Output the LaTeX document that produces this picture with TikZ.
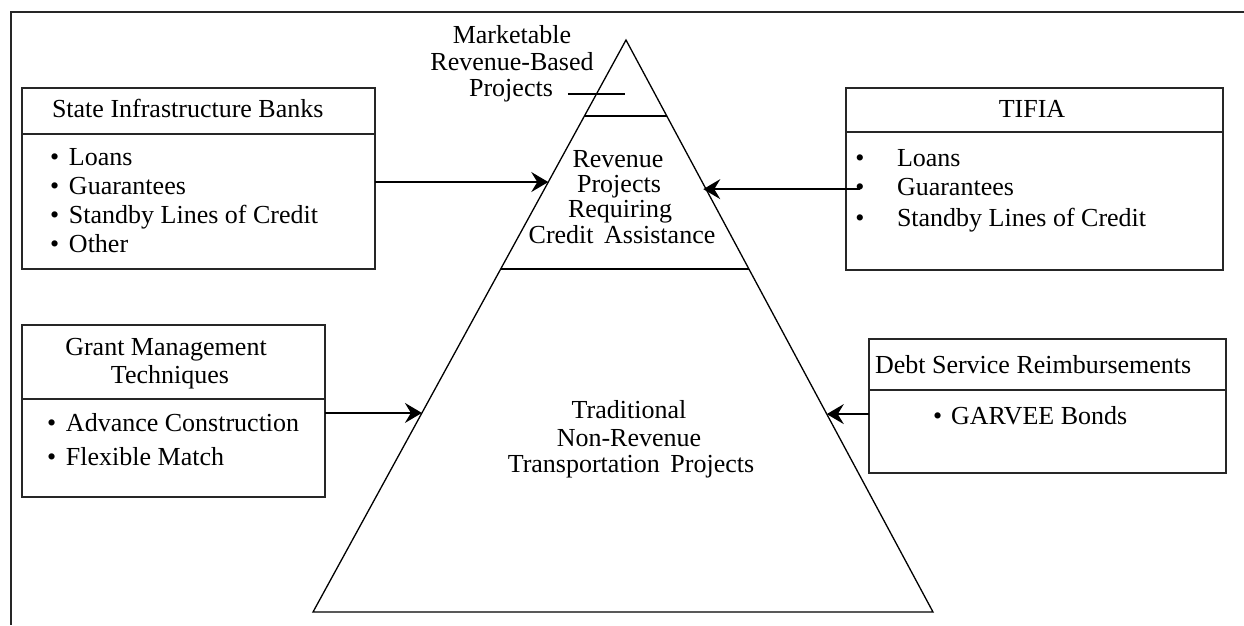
\documentclass[tikz,border=0pt]{standalone}
\usepackage{fontspec}
\setmainfont{Liberation Serif}
\usetikzlibrary{arrows.meta,calc}

\newcommand{\bulbox}[1]{\makebox[#1][l]{\textbullet}}

\begin{document}
\begin{tikzpicture}[x=1pt,y=-1pt,
  every node/.style={inner sep=0pt, outer sep=0pt},
  txt/.style={font=\fontsize{26}{29}\selectfont, anchor=base west},
  ctxt/.style={font=\fontsize{26}{29}\selectfont, anchor=base},
  panel/.style={draw=black!85, line width=1.7pt, anchor=north west},
  rule/.style={draw=black!85, line width=1.7pt},
  edge/.style={line width=1.3pt},
  link/.style={line width=1.4pt, -{Stealth[length=17pt,width=20pt,inset=6pt]}},
]
\useasboundingbox (0,0) rectangle (1244,625);

% frame
\coordinate (frameTR) at (1244,12);
\coordinate (frameTL) at (11,12);
\coordinate (frameBL) at (11,625);
\draw[line width=1.5pt, black!85] (frameTR) -- (frameTL) -- (frameBL);

% pyramid
\coordinate (apex) at (626,40);
\coordinate (bl) at (313,612);
\coordinate (br) at (933,612);
\draw[edge, line join=miter] (bl) -- (apex) -- (br) -- cycle;
\draw[edge] ($(apex)!0.1329!(bl)$) -- ($(apex)!0.1329!(br)$);
\draw[edge] ($(apex)!0.4003!(bl)$) -- ($(apex)!0.4003!(br)$);

% pyramid labels
\node[ctxt] (mk1) at (512,43) {Marketable};
\node[ctxt] (mk2) at (512,70) {Revenue-Based};
\node[ctxt] (mk3) at (511,96) {Projects};
\draw[edge] ([xshift=15pt,yshift=2pt]mk3.base east) -- ++(57,0);

\node[ctxt] (rv1) at (618,167) {Revenue};
\node[ctxt] (rv2) at (619,192) {Projects};
\node[ctxt] (rv3) at (620,217) {Requiring};
\node[ctxt] (rv4) at (622,243) {Credit\hspace{4pt} Assistance};

\node[ctxt] (tr1) at (629,418) {Traditional};
\node[ctxt] (tr2) at (629,446) {Non-Revenue};
\node[ctxt] (tr3) at (631,472) {Transportation\hspace{4pt} Projects};

% State Infrastructure Banks
\node[panel, minimum width=353pt, minimum height=181pt] (sib) at (22,88) {};
\draw[rule] ([yshift=-46pt]sib.north west) -- ([yshift=-46pt]sib.north east);
\node[txt] (sibT) at (52,117) {State Infrastructure Banks};
\node[txt] (sib1) at (50,165) {\bulbox{19pt}Loans};
\node[txt] (sib2) at (50,194) {\bulbox{19pt}Guarantees};
\node[txt] (sib3) at (50,223) {\bulbox{19pt}Standby Lines of Credit};
\node[txt] (sib4) at (50,252) {\bulbox{19pt}Other};

% TIFIA
\node[panel, minimum width=377pt, minimum height=182pt] (tifia) at (846,88) {};
\draw[rule] ([yshift=-44pt]tifia.north west) -- ([yshift=-44pt]tifia.north east);
\node[ctxt] (tifiaT) at (1032,117) {TIFIA};
\node[ctxt] (tb1) at (860,166) {\textbullet};
\node[ctxt] (tb2) at (860,195) {\textbullet};
\node[ctxt] (tb3) at (860,226) {\textbullet};
\node[txt] (tf1) at (897,166) {Loans};
\node[txt] (tf2) at (897,195) {Guarantees};
\node[txt] (tf3) at (897,226) {Standby Lines of Credit};

% Grant Management Techniques
\node[panel, minimum width=303pt, minimum height=172pt] (grant) at (22,325) {};
\draw[rule] ([yshift=-74pt]grant.north west) -- ([yshift=-74pt]grant.north east);
\node[ctxt] (grT1) at (166,355) {Grant Management};
\node[ctxt] (grT2) at (170,383) {Techniques};
\node[txt] (gr1) at (47,431) {\bulbox{19pt}Advance Construction};
\node[txt] (gr2) at (47,465) {\bulbox{19pt}Flexible Match};

% Debt Service Reimbursements
\node[panel, minimum width=357pt, minimum height=134pt] (debt) at (869,339) {};
\draw[rule] ([yshift=-51pt]debt.north west) -- ([yshift=-51pt]debt.north east);
\node[txt] (dbT) at (875,373) {Debt Service Reimbursements};
\node[txt] (db1) at (933,424) {\bulbox{18pt}GARVEE Bonds};

% connectors
\coordinate (hitA) at ($(apex)!0.2483!(bl)$);
\coordinate (hitB) at ($(apex)!0.2517!(br)$);
\coordinate (hitC) at ($(apex)!0.652!(bl)$);
\coordinate (hitD) at ($(apex)!0.654!(br)$);
\draw[link] (sib.east |- hitA) -- (hitA);
\draw[link] (tb2.center) -- (tb2.center -| hitB);
\draw[link] (grant.east |- hitC) -- (hitC);
\draw[link] (debt.west |- hitD) -- (hitD);
\end{tikzpicture}
\end{document}
